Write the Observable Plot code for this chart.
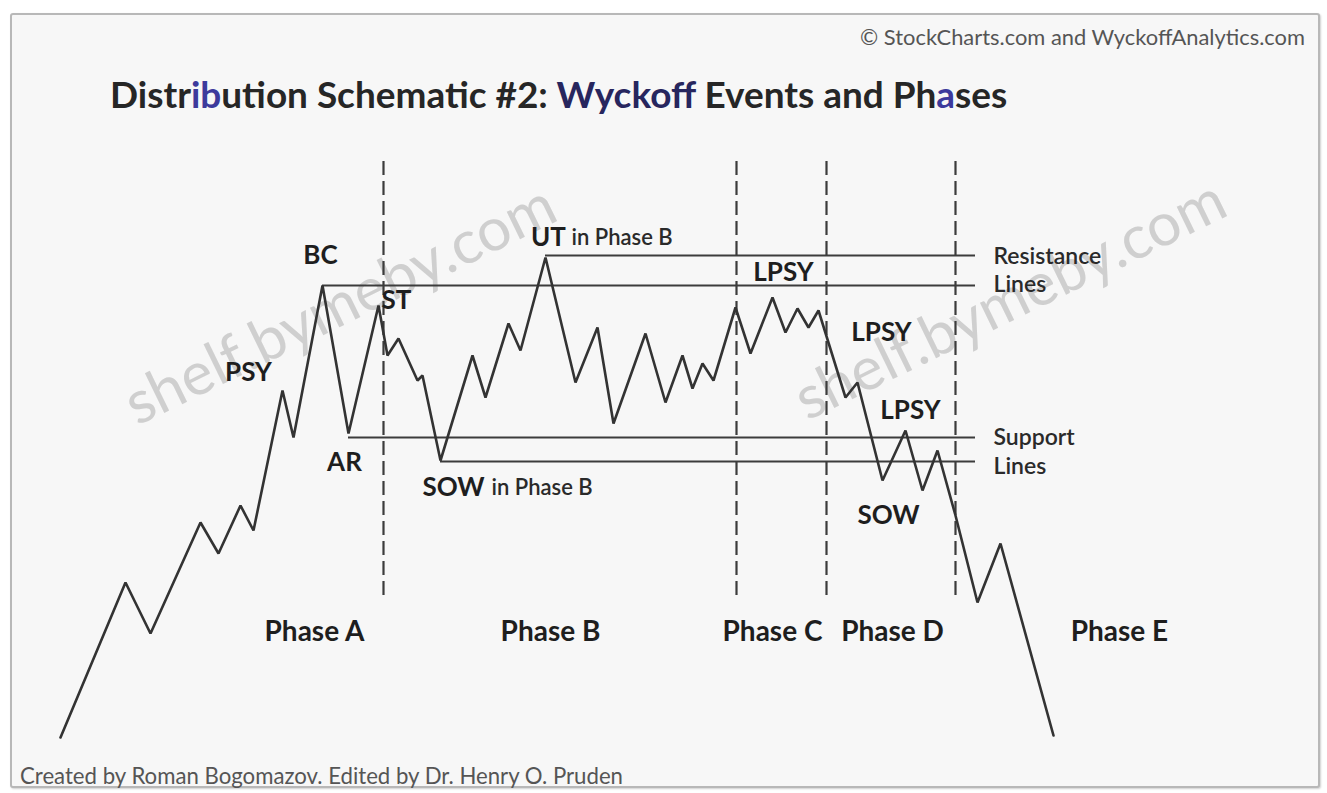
<!DOCTYPE html>
<html>
<head>
<meta charset="utf-8">
<script src="https://cdn.jsdelivr.net/npm/d3@7"></script>
<script src="https://cdn.jsdelivr.net/npm/@observablehq/plot@0.6"></script>
<style>
html,body{margin:0;padding:0;background:#fff;}
body{width:1327px;height:793px;position:relative;overflow:hidden;font-family:Lato,"Open Sans",sans-serif;}
#frame{position:absolute;left:10px;top:13px;width:1306px;height:771px;border:2px solid #b8b8b8;border-radius:3px;background:#f7f7f7;box-shadow:1px 1px 2px #d0d0d0;}
#header{position:relative;height:140px;}
#credit{position:absolute;top:23px;right:22px;font-size:15px;color:#555;white-space:nowrap;}
#title{position:absolute;left:110px;top:72px;font-size:32px;font-weight:700;color:#262626;white-space:nowrap;}
#title .b{color:#3d3a9c;}
#title .n{color:#27265e;}
#chart{position:relative;height:620px;}
#footer{position:relative;height:33px;}
#caption{position:absolute;left:20px;top:2px;font-size:15px;color:#555;white-space:nowrap;}
</style>
</head>
<body>
<div id="frame"></div>
<div id="header">
  <div id="credit">© StockCharts.com and WyckoffAnalytics.com</div>
  <div id="title">Distr<span class="b">ib</span>ution Schematic #2: <span class="n">Wyckoff</span> Events and Ph<span class="b">a</span>ses</div>
</div>
<div id="chart"></div>
<div id="footer">
  <div id="caption">Created by Roman Bogomazov. Edited by Dr. Henry O. Pruden</div>
</div>
<script>
// ---- price path (time units, price units) ----
const time  = [6.0, 12.5, 15.0, 20.0, 21.8, 24.0, 25.3, 28.2, 29.3, 32.2, 34.8, 37.8, 38.7, 39.8, 41.7, 42.2, 44.0, 47.2, 48.5, 50.8, 52.0, 54.5, 57.5, 59.7, 61.3, 64.5, 66.5, 68.2, 69.2, 70.2, 71.3, 73.5, 75.0, 77.2, 78.5, 79.7, 80.8, 81.8, 84.5, 85.7, 88.2, 90.5, 92.2, 93.7, 95.5, 97.7, 100.0, 105.3];
const price = [2.3, 17.8, 12.7, 23.8, 20.7, 25.5, 23.0, 37.0, 32.3, 47.5, 32.7, 45.5, 40.5, 42.2, 38.0, 38.5, 30.0, 40.5, 36.3, 43.7, 41.0, 50.3, 37.8, 43.3, 33.7, 42.7, 35.8, 40.5, 37.2, 39.7, 38.0, 45.3, 40.7, 46.3, 42.8, 45.2, 43.3, 45.0, 36.3, 37.8, 28.0, 33.0, 27.0, 31.0, 24.5, 15.8, 21.7, 2.5];

// ---- resistance / support levels ----
const levelPrice = [50.5, 47.5, 32.3, 29.9];
const levelStart = [54.5, 32.2, 34.8, 44.0];
const levelEnd   = [97.5, 97.5, 97.5, 97.5];

// ---- phase boundaries ----
const phaseBounds = [38.3, 73.6, 82.6, 95.5];
const boundTop = 60.0, boundBottom = 16.5;

// ---- phase labels ----
const phaseNames = ["Phase A", "Phase B", "Phase C", "Phase D", "Phase E"];
const phaseT     = [31.4, 55.0, 77.2, 89.2, 111.9];
const phaseP     = 12.8;

// ---- event labels ----
const eventNames = ["BC", "PSY", "ST", "AR", "SOW", "UT", "LPSY", "LPSY", "LPSY", "SOW"];
const eventT     = [32.0, 24.8, 39.6, 34.4, 45.3, 54.8, 78.3, 88.1, 91.0, 88.8];
const eventP     = [50.5, 38.8, 46.0, 29.8, 27.3, 52.3, 48.8, 42.8, 35.0, 24.5];

// ---- small labels ----
const noteNames = ["in Phase B", "in Phase B"];
const noteT     = [57.1, 49.1];
const noteP     = [52.3, 27.3];
const sideNames = ["Resistance", "Lines", "Support", "Lines"];
const sideT     = [99.3, 99.3, 99.3, 99.3];
const sideP     = [50.4, 47.6, 32.3, 29.4];

// ---- watermark ----
const markText = ["shelf.bymeby.com", "shelf.bymeby.com"];
const markT    = [34.0, 101.0];
const markP    = [45.5, 46.0];

// build tables
const path   = time.map((t, i) => ({t, p: price[i]}));
const levels = levelPrice.map((p, i) => ({p, t1: levelStart[i], t2: levelEnd[i]}));
const bounds = phaseBounds.map(t => ({t, y1: boundBottom, y2: boundTop}));
const phases = phaseNames.map((name, i) => ({name, t: phaseT[i], p: phaseP}));
const events = eventNames.map((name, i) => ({name, t: eventT[i], p: eventP[i]}));
const notes  = noteNames.map((name, i) => ({name, t: noteT[i], p: noteP[i]}));
const sides  = sideNames.map((name, i) => ({name, t: sideT[i], p: sideP[i]}));
const marks  = markText.map((name, i) => ({name, t: markT[i], p: markP[i]}));

const font = "Lato, 'Open Sans', sans-serif";

const chart = Plot.plot({
  width: 1327,
  height: 620,
  margin: 0,
  x: {domain: [0, 132.7], axis: null},
  y: {domain: [0, 62], axis: null},
  style: {background: "transparent", overflow: "visible", fontFamily: font},
  marks: [
    Plot.text(marks, {x: "t", y: "p", text: "name", rotate: -26, fontSize: 60, fill: "#c2c2c2", fillOpacity: 0.75}),
    Plot.ruleY(levels, {y: "p", x1: "t1", x2: "t2", stroke: "#3c3c3c", strokeWidth: 2}),
    Plot.ruleX(bounds, {x: "t", y1: "y1", y2: "y2", stroke: "#3c3c3c", strokeWidth: 2.2, strokeDasharray: "14,6"}),
    Plot.line(path, {x: "t", y: "p", stroke: "#333", strokeWidth: 2.6, strokeLinejoin: "miter"}),
    Plot.text(events, {x: "t", y: "p", text: "name", fontSize: 26, fontWeight: 700, fill: "#1e1e1e"}),
    Plot.text(notes, {x: "t", y: "p", text: "name", textAnchor: "start", fontSize: 22, fontWeight: 600, fill: "#2a2a2a"}),
    Plot.text(sides, {x: "t", y: "p", text: "name", textAnchor: "start", fontSize: 23, fontWeight: 600, fill: "#2a2a2a"}),
    Plot.text(phases, {x: "t", y: "p", text: "name", fontSize: 28, fontWeight: 700, fill: "#1e1e1e"})
  ]
});
document.getElementById("chart").appendChild(chart);

function fit(id, target) {
  const el = document.getElementById(id);
  const w = el.getBoundingClientRect().width;
  const fs = parseFloat(getComputedStyle(el).fontSize);
  el.style.fontSize = (fs * target / w) + "px";
}
function fitAll() { fit("title", 897); fit("credit", 445); fit("caption", 603); }
fitAll();
if (document.fonts && document.fonts.ready) document.fonts.ready.then(fitAll);
</script>
</body>
</html>
